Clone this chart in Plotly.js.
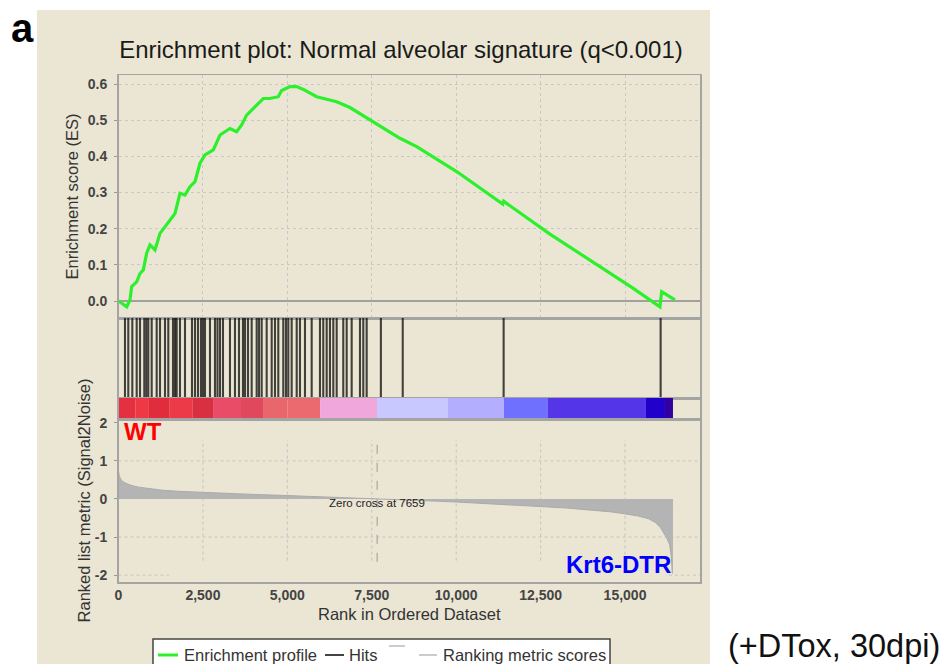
<!DOCTYPE html>
<html>
<head>
<meta charset="utf-8">
<script src="https://cdn.plot.ly/plotly-3.0.1.min.js"></script>
<style>html,body{margin:0;padding:0;background:#fff;}#chart{width:948px;height:664px;}</style>
</head>
<body>
<div id="chart"></div>
<script>
// ---------- data ----------
const esRank = [0, 120, 243, 340, 390, 538, 637, 735, 834, 933, 1081, 1229, 1377, 1525, 1673, 1821, 1969, 2117, 2265, 2413, 2561, 2808, 3005, 3153, 3301, 3498, 3646, 3795, 3992, 4287, 4485, 4732, 4831, 5078, 5276, 5473, 5868, 6164, 6460, 6855, 7447, 8335, 8830, 10014, 11380, 11405, 11493, 12777, 14257, 15244, 16034, 16084, 16478];
const esValue = [0, -0.008, -0.016, 0.003, 0.04, 0.053, 0.076, 0.086, 0.132, 0.155, 0.141, 0.187, 0.205, 0.224, 0.242, 0.298, 0.293, 0.316, 0.330, 0.381, 0.404, 0.418, 0.459, 0.468, 0.477, 0.468, 0.487, 0.514, 0.533, 0.560, 0.560, 0.565, 0.582, 0.593, 0.593, 0.585, 0.565, 0.558, 0.551, 0.535, 0.502, 0.450, 0.427, 0.358, 0.268, 0.276, 0.270, 0.185, 0.095, 0.035, -0.016, 0.026, 0.003];

const hitRanks = [192, 290, 409, 539, 637, 764, 823, 882, 983, 1131, 1229, 1377, 1475, 1614, 1673, 1723, 1821, 1969, 2176, 2265, 2354, 2443, 2502, 2561, 2709, 2857, 2931, 3005, 3094, 3301, 3449, 3568, 3686, 3745, 3834, 3944, 4092, 4160, 4240, 4388, 4536, 4634, 4732, 4880, 4960, 5028, 5128, 5277, 5374, 5522, 5721, 5966, 6064, 6165, 6262, 6361, 6461, 6656, 6757, 6905, 7151, 7249, 7349, 7770, 8417, 11405, 16054];

const metricRank = [0, 20, 60, 120, 250, 400, 600, 900, 1300, 1800, 2500, 3200, 4000, 5000, 6000, 7000, 7659, 8500, 9500, 10000, 11000, 12500, 13300, 14000, 14600, 15000, 15400, 15700, 15900, 16050, 16150, 16250, 16320, 16370, 16400, 16420];
const metricValue = [0.75, 0.62, 0.53, 0.46, 0.40, 0.35, 0.31, 0.27, 0.23, 0.20, 0.17, 0.14, 0.12, 0.09, 0.06, 0.03, 0, -0.03, -0.06, -0.08, -0.12, -0.20, -0.24, -0.29, -0.34, -0.39, -0.45, -0.52, -0.62, -0.75, -0.9, -1.05, -1.2, -1.5, -1.95, -1.95];

const barStart = [0, 500, 900, 1500, 2200, 2800, 3600, 4280, 5000, 5970, 7655, 9756, 11415, 12717, 15620, 16183];
const barEnd   = [500, 900, 1500, 2200, 2800, 3600, 4280, 5000, 5970, 7655, 9756, 11415, 12717, 15620, 16183, 16420];
const barColor = ['#E43040', '#EE3844', '#E02C3C', '#EC3A48', '#D83040', '#E84C66', '#E0485E', '#E8666C', '#EA6A70', '#F0A8DC', '#C8C8FF', '#B4AEFF', '#7070FF', '#5535E8', '#2200CC', '#3300A0'];

const xTicks = [0, 2500, 5000, 7500, 10000, 12500, 15000];
const metricTicks = [-2, -1, 0, 1, 2];
const metricTickText = ['-2', '-1', '0', '1', '2'];
const zeroCross = 7659;

// ---------- layout helpers ----------
const W = 948, H = 664;
const fx = p => p / W;
const fy = p => 1 - p / H;
const XMAX = 17220;
const FONT = 'Liberation Sans, Arial, sans-serif';

const hx = [], hy = [];
hitRanks.forEach(h => { hx.push(h, h, null); hy.push(0, 1, null); });

const traces = [
  {x: esRank, y: esValue, xaxis: 'x', yaxis: 'y', type: 'scatter', mode: 'lines',
   line: {color: '#2DF02D', width: 3.2}, name: 'Enrichment profile', hoverinfo: 'skip'},
  {x: hx, y: hy, xaxis: 'x2', yaxis: 'y2', type: 'scatter', mode: 'lines',
   line: {color: 'rgba(0,0,0,0.72)', width: 2.1}, name: 'Hits', hoverinfo: 'skip'},
  {x: barStart.map((s, i) => (s + barEnd[i]) / 2), y: barStart.map(() => 1),
   width: barStart.map((s, i) => barEnd[i] - s), base: 0,
   xaxis: 'x3', yaxis: 'y3', type: 'bar', marker: {color: barColor, line: {width: 0}}, hoverinfo: 'skip'},
  {x: metricRank, y: metricValue, xaxis: 'x4', yaxis: 'y4', type: 'scatter', mode: 'lines',
   fill: 'tozeroy', fillcolor: '#B4B4B4', line: {color: '#AAAAAA', width: 1},
   name: 'Ranking metric scores', hoverinfo: 'skip'}
];

const frame = {showline: true, mirror: true, linecolor: '#A4A4A4', linewidth: 1.5};
const tickFont = {family: FONT, size: 14, color: '#444', weight: 'bold'};
const titleFont = {family: FONT, size: 16.5, color: '#333'};
const xdom = [fx(118.5), fx(700)];

const shapes = [
  {type: 'rect', xref: 'paper', yref: 'paper', x0: fx(37), x1: fx(710), y0: -0.05, y1: fy(10),
   fillcolor: '#EAE6D3', line: {width: 0}, layer: 'below'}
];
xTicks.slice(1).forEach(t => shapes.push({type: 'line', xref: 'x4', yref: 'y4', x0: t, x1: t, y0: -1.62, y1: 1.55,
  line: {color: '#C4C4C4', width: 1, dash: 'dot'}, layer: 'below'}));
[1, -1].forEach(v => shapes.push({type: 'line', xref: 'x4', yref: 'y4', x0: 0, x1: XMAX, y0: v, y1: v,
  line: {color: '#C4C4C4', width: 1, dash: 'dot'}, layer: 'below'}));
shapes.push({type: 'line', xref: 'x4', yref: 'y4', x0: 0, x1: 1500, y0: -2, y1: -2, line: {color: '#C4C4C4', width: 1, dash: 'dot'}, layer: 'below'});
shapes.push({type: 'line', xref: 'x4', yref: 'y4', x0: 16300, x1: XMAX, y0: -2, y1: -2, line: {color: '#C4C4C4', width: 1, dash: 'dot'}, layer: 'below'});
shapes.push({type: 'line', xref: 'x4', yref: 'y4', x0: zeroCross, x1: zeroCross, y0: -1.65, y1: 1.55,
  line: {color: '#999', width: 1, dash: 'dash'}});
// legend
shapes.push({type: 'rect', xref: 'paper', yref: 'paper', x0: fx(153), x1: fx(610), y0: fy(672), y1: fy(639),
  fillcolor: '#FFFFFF', line: {color: '#444', width: 1.5}});
shapes.push({type: 'line', xref: 'paper', yref: 'paper', x0: fx(158), x1: fx(178), y0: fy(655), y1: fy(655), line: {color: '#2DF02D', width: 3}});
shapes.push({type: 'line', xref: 'paper', yref: 'paper', x0: fx(325), x1: fx(344), y0: fy(655), y1: fy(655), line: {color: '#444', width: 2}});
shapes.push({type: 'line', xref: 'paper', yref: 'paper', x0: fx(389), x1: fx(405), y0: fy(646), y1: fy(646), line: {color: '#CCC', width: 2}});
shapes.push({type: 'line', xref: 'paper', yref: 'paper', x0: fx(419), x1: fx(437), y0: fy(655), y1: fy(655), line: {color: '#CCC', width: 2}});

const annotations = [
  {xref: 'paper', yref: 'paper', x: fx(9), y: fy(28), xanchor: 'left', yanchor: 'middle', showarrow: false,
   text: '<b>a</b>', font: {family: FONT, size: 40, color: '#000'}},
  {xref: 'paper', yref: 'paper', x: fx(726), y: fy(646), xanchor: 'left', yanchor: 'middle', showarrow: false,
   text: '(+DTox, 30dpi)', font: {family: FONT, size: 32.5, color: '#111'}},
  {xref: 'x4', yref: 'y4', x: 100, y: 1.76, xanchor: 'left', yanchor: 'middle', showarrow: false,
   text: '<b>WT</b>', font: {family: FONT, size: 24, color: '#FF0000'}},
  {xref: 'x4', yref: 'y4', x: 16420, y: -1.72, xanchor: 'right', yanchor: 'middle', showarrow: false,
   text: '<b>Krt6-DTR</b>', font: {family: FONT, size: 24, color: '#0000FF'}},
  {xref: 'x4', yref: 'y4', x: zeroCross, y: -0.1, xanchor: 'center', yanchor: 'middle', showarrow: false,
   text: 'Zero cross at 7659', font: {family: FONT, size: 11.5, color: '#222'}},
  {xref: 'paper', yref: 'paper', x: fx(182), y: fy(655), xanchor: 'left', yanchor: 'middle', showarrow: false,
   text: 'Enrichment profile', font: {family: FONT, size: 16.5, color: '#333'}},
  {xref: 'paper', yref: 'paper', x: fx(347), y: fy(655), xanchor: 'left', yanchor: 'middle', showarrow: false,
   text: 'Hits', font: {family: FONT, size: 16.5, color: '#333'}},
  {xref: 'paper', yref: 'paper', x: fx(441), y: fy(655), xanchor: 'left', yanchor: 'middle', showarrow: false,
   text: 'Ranking metric scores', font: {family: FONT, size: 16.5, color: '#333'}}
];

const layout = {
  width: W, height: H, margin: {l: 0, r: 0, t: 0, b: 0},
  paper_bgcolor: '#FFFFFF', plot_bgcolor: '#FFFFFF', showlegend: false,
  font: {family: FONT},
  title: {text: 'Enrichment plot: Normal alveolar signature (q&lt;0.001)', x: fx(401), xanchor: 'center',
          y: fy(50), yanchor: 'middle', xref: 'paper', yref: 'paper',
          font: {family: FONT, size: 24, color: '#1A1A1A'}},
  xaxis: Object.assign({domain: xdom, range: [0, XMAX], anchor: 'y', showticklabels: false,
          tickvals: xTicks, showgrid: true, gridcolor: '#C8C8C8', griddash: 'dot', zeroline: false}, frame),
  yaxis: Object.assign({domain: [fy(318), fy(75)], range: [-0.047, 0.625], anchor: 'x', dtick: 0.1, tick0: 0,
          tickformat: '.1f', showgrid: true, gridcolor: '#C8C8C8', griddash: 'dot',
          zeroline: true, zerolinecolor: '#A0A0A0', zerolinewidth: 2,
          ticks: 'outside', ticklen: 3, tickcolor: '#999', tickfont: tickFont, ticklabelstandoff: 4,
          title: {text: 'Enrichment score (ES)', font: titleFont, standoff: 5}}, frame),
  xaxis2: Object.assign({domain: xdom, range: [0, XMAX], anchor: 'y2', showticklabels: false, showgrid: false, zeroline: false}, frame),
  yaxis2: Object.assign({domain: [fy(398), fy(318)], range: [0, 1], anchor: 'x2', showticklabels: false, showgrid: false, zeroline: false}, frame),
  xaxis3: Object.assign({domain: xdom, range: [0, XMAX], anchor: 'y3', showticklabels: false, showgrid: false, zeroline: false}, frame),
  yaxis3: Object.assign({domain: [fy(419), fy(398)], range: [0, 1], anchor: 'x3', showticklabels: false, showgrid: false, zeroline: false}, frame),
  xaxis4: Object.assign({domain: xdom, range: [0, XMAX], anchor: 'y4', tickvals: xTicks, tickformat: ',',
          showgrid: false, zeroline: false, tickfont: tickFont, ticklabelstandoff: 0,
          title: {text: 'Rank in Ordered Dataset', font: titleFont, standoff: 6}}, frame),
  yaxis4: Object.assign({domain: [fy(582), fy(419)], range: [-2.18, 2.1], anchor: 'x4', tickvals: metricTicks,
          ticktext: metricTickText,
          showgrid: false, zeroline: false, ticks: 'outside', ticklen: 3, tickcolor: '#999',
          tickfont: tickFont, ticklabelstandoff: 4,
          title: {text: 'Ranked list metric (Signal2Noise)', font: titleFont, standoff: 0}}, frame),
  shapes: shapes,
  annotations: annotations
};

Plotly.newPlot('chart', traces, layout, {displayModeBar: false, staticPlot: true});
</script>
</body>
</html>
